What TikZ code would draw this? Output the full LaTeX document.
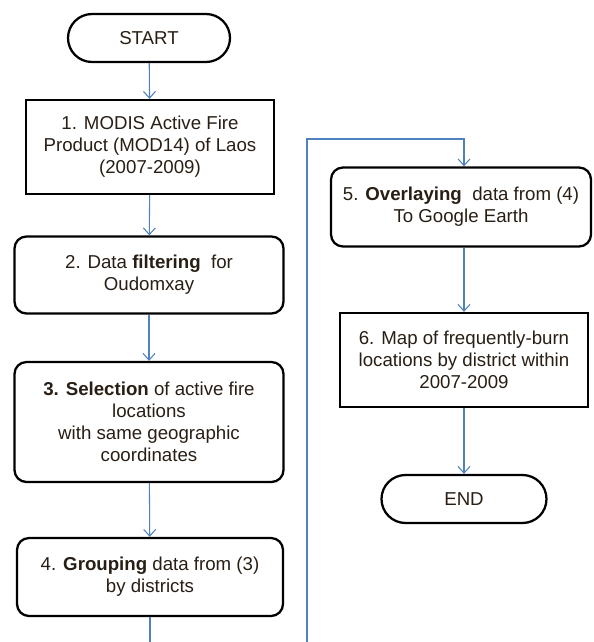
\documentclass[tikz,border=0pt]{standalone}
\usepackage{fontspec}
\setmainfont{Liberation Sans}
\usepackage{tikz}
\usepackage{xcolor}
\usetikzlibrary{positioning,shapes,arrows.meta}
\definecolor{flowblue}{RGB}{79,129,189}
\definecolor{boxtext}{RGB}{40,30,20}
\begin{document}
\begin{tikzpicture}[x=0.75pt,y=-0.75pt]
\tikzstyle{every node}+=[font=\fontsize{14}{16.6}\selectfont,text=boxtext,align=center,inner sep=0pt]
\tikzstyle{terminal}=[draw,line width=1.7pt,rounded corners=18pt,minimum height=36pt]
\tikzstyle{process}=[draw,line width=1.7pt,rounded corners=9pt]
\tikzstyle{product}=[draw,line width=1.7pt]
\tikzstyle{flow}=[flowblue,line width=0.8pt,-{Straight Barb[length=5pt,width=9pt]}]
\useasboundingbox (0,0) rectangle (593,642);
\node [terminal,minimum width=121.5pt] (start) at (149,38) {START};
\node [product,minimum width=186pt,minimum height=70.5pt] (mod) at (150,147) {1. MODIS Active Fire\\Product (MOD14) of Laos\\(2007-2009)};
\node [process,minimum width=201.75pt,minimum height=57.75pt] (filter) at (149,275) {2. Data \textbf{filtering}\ \ for\\Oudomxay};
\node [process,minimum width=201.75pt,minimum height=90pt] (select) at (149,422) {\textbf{3. Selection} of active fire\\locations\\with same geographic\\coordinates};
\node [process,minimum width=199.5pt,minimum height=58.5pt] (group) at (150,577) {4. \textbf{Grouping} data from (3)\\by districts};
\node [process,minimum width=195pt,minimum height=59.25pt] (overlay) at (461,207) {5. \textbf{Overlaying}\ \ data from (4)\\To Google Earth};
\node [product,minimum width=186pt,minimum height=70.5pt] (map) at (464,360) {6. Map of frequently-burn\\locations by district within\\2007-2009};
\node [terminal,minimum width=123.75pt] (end) at (464,499) {END};
\coordinate (groupout) at (150,642);
\coordinate (loopin) at (307,642);
\coordinate (looptop) at (307,139);
\draw [flow] (start) -- (mod);
\draw [flow] (mod) -- (filter);
\draw [flow] (filter) -- (select);
\draw [flow] (select) -- (group);
\draw [flowblue,line width=0.8pt] (group) -- (groupout);
\draw [flow] (loopin) -- (looptop) -| (overlay.north -| map.north);
\draw [flow] (overlay.south -| map.north) -- (map);
\draw [flow] (map) -- (end);
\end{tikzpicture}
\end{document}
